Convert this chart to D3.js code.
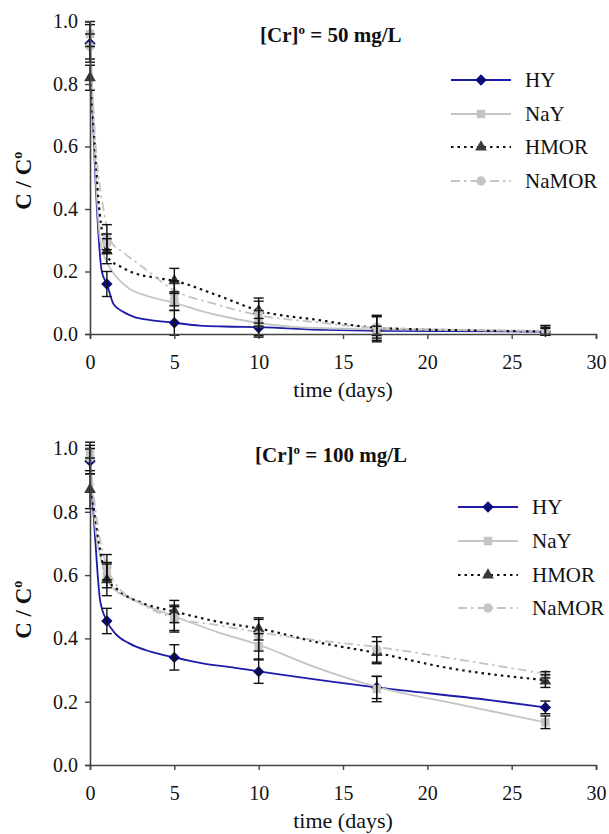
<!DOCTYPE html>
<html>
<head>
<meta charset="utf-8">
<script src="https://cdn.jsdelivr.net/npm/d3@7"></script>
<style>
  body { margin: 0; background: #fff; }
  text { font-family: "Liberation Serif", "Times New Roman", serif; fill: #111; }
</style>
</head>
<body>
<div id="chart"></div>
<script>
// sampling times (days) and tick values
var times = [0, 1, 5, 10, 17, 27];
var seriesNames = ["HY", "NaY", "HMOR", "NaMOR"];
var xTicks = [0, 5, 10, 15, 20, 25, 30];
var yTicks = [0, 0.2, 0.4, 0.6, 0.8, 1.0];

// [Cr]o = 50 mg/L : measured points and error bars
var hy50 = [0.93, 0.16, 0.036, 0.02, 0.01, 0.008];
var hy50Err = [0.06, 0.04, 0.04, 0.03, 0.015, 0.01];
var nay50 = [0.96, 0.31, 0.105, 0.035, 0.015, 0.012];
var nay50Err = [0.04, 0.04, 0.03, 0.04, 0.04, 0.015];
var hmor50 = [0.82, 0.265, 0.17, 0.075, 0.02, 0.008];
var hmor50Err = [0.04, 0.04, 0.04, 0.04, 0.04, 0.012];
var namor50 = [0.92, 0.29, 0.13, 0.065, 0.022, 0.012];
var namor50Err = [0.04, 0.03, 0.04, 0.04, 0.035, 0.015];

// curves drawn through the 50 mg/L data
var hy50Fit = [[0,0.93],[0.3,0.52],[0.7,0.2],[1,0.16],[1.4,0.095],[2,0.07],[2.6,0.055],[3.5,0.045],[5,0.036],[6.5,0.027],[8,0.024],[10,0.022],[14,0.013],[17,0.01],[27,0.008]];
var nay50Fit = [[0,0.96],[0.3,0.55],[0.6,0.3],[1,0.23],[1.2,0.21],[2.2,0.15],[3.5,0.12],[5,0.1],[6.5,0.075],[7.6,0.06],[10,0.035],[13,0.02],[17,0.015],[27,0.01]];
var hmor50Fit = [[0,0.82],[0.3,0.59],[0.5,0.43],[0.8,0.3],[1.2,0.235],[1.6,0.222],[2.6,0.195],[3.9,0.18],[5,0.17],[7.5,0.125],[10,0.075],[13.5,0.045],[17,0.02],[22,0.012],[27,0.008]];
var namor50Fit = [[0,0.92],[0.4,0.56],[0.8,0.4],[1.2,0.3],[2,0.26],[3.1,0.215],[5,0.14],[7.5,0.095],[10,0.06],[13,0.04],[17,0.02],[27,0.01]];

// [Cr]o = 100 mg/L
var hy100 = [0.96, 0.455, 0.34, 0.295, 0.245, 0.182];
var hy100Err = [0.04, 0.04, 0.04, 0.037, 0.035, 0.02];
var nay100 = [0.99, 0.60, 0.46, 0.375, 0.24, 0.135];
var nay100Err = [0.02, 0.04, 0.04, 0.04, 0.04, 0.02];
var hmor100 = [0.87, 0.585, 0.485, 0.43, 0.355, 0.265];
var hmor100Err = [0.06, 0.05, 0.035, 0.035, 0.035, 0.02];
var namor100 = [0.97, 0.625, 0.465, 0.41, 0.365, 0.285];
var namor100Err = [0.05, 0.04, 0.04, 0.05, 0.04, 0.01];

var hy100Fit = [[0,0.96],[0.3,0.72],[0.6,0.52],[1,0.455],[1.5,0.415],[2.3,0.385],[3.6,0.358],[5,0.34],[6.6,0.322],[8.6,0.307],[10,0.296],[17,0.245],[23.7,0.205],[27,0.182]];
var nay100Fit = [[0,0.99],[0.3,0.76],[0.76,0.63],[1.3,0.563],[2.65,0.52],[5,0.47],[7.55,0.42],[10,0.38],[13.3,0.31],[17,0.247],[22,0.19],[27,0.135]];
var hmor100Fit = [[0,0.87],[0.3,0.784],[0.5,0.71],[1,0.59],[1.66,0.553],[3.2,0.51],[5,0.485],[7.55,0.453],[10.4,0.427],[13.3,0.39],[17,0.354],[21.3,0.306],[27,0.268]];
var namor100Fit = [[0,0.97],[0.3,0.816],[1,0.625],[1.5,0.575],[3,0.51],[5,0.465],[7.55,0.442],[10.4,0.416],[13.3,0.395],[17,0.373],[21.3,0.338],[27,0.288]];

var styles = {
  HY:    { line: "#1c1ca8", width: 1.8, dash: null,        marker: "diamond",  fill: "#0a0a78" },
  NaY:   { line: "#c4c4c4", width: 1.8, dash: null,        marker: "square",   fill: "#c4c4c4" },
  HMOR:  { line: "#111",    width: 2.2, dash: "2.5,4",     marker: "triangle", fill: "#3a3a3a" },
  NaMOR: { line: "#c4c4c4", width: 1.8, dash: "9,4,2.5,4", marker: "circle",   fill: "#c4c4c4" }
};

function markerPath(kind) {
  if (kind === "diamond") return d3.symbol(d3.symbolSquare, 64)();
  if (kind === "square") return d3.symbol(d3.symbolSquare, 72)();
  if (kind === "triangle") return d3.symbol(d3.symbolTriangle, 60)();
  return d3.symbol(d3.symbolCircle, 70)();
}

var width = 609, height = 834;
var svg = d3.select("#chart").append("svg")
  .attr("width", width).attr("height", height);

function drawPanel(p) {
  var x = d3.scaleLinear().domain([0, 30]).range([90, 596]);
  var y = d3.scaleLinear().domain([0, 1]).range([p.bottom, p.top]);
  var g = svg.append("g");

  // curves
  p.series.forEach(function (s) {
    var st = styles[s.name];
    g.append("path")
      .datum(s.fit)
      .attr("fill", "none")
      .attr("stroke", st.line)
      .attr("stroke-width", st.width)
      .attr("stroke-dasharray", st.dash)
      .attr("d", d3.line().curve(d3.curveMonotoneX)
        .x(function (d) { return x(d[0]); })
        .y(function (d) { return y(d[1]); }));
  });

  // markers
  p.series.forEach(function (s) {
    var st = styles[s.name];
    g.selectAll(null).data(times).enter().append("path")
      .attr("d", markerPath(st.marker))
      .attr("fill", st.fill)
      .attr("transform", function (t, i) {
        return "translate(" + x(t) + "," + y(s.values[i]) + ")" + (st.marker === "diamond" ? " rotate(45)" : "");
      });
  });

  // error bars
  p.series.forEach(function (s) {
    times.forEach(function (t, i) {
      var v = s.values[i], e = s.err[i], cx = x(t);
      var eb = g.append("g").attr("stroke", "#111").attr("stroke-width", 1.4);
      eb.append("line").attr("x1", cx).attr("x2", cx).attr("y1", y(v + e)).attr("y2", y(v - e));
      eb.append("line").attr("x1", cx - 5).attr("x2", cx + 5).attr("y1", y(v + e)).attr("y2", y(v + e));
      eb.append("line").attr("x1", cx - 5).attr("x2", cx + 5).attr("y1", y(v - e)).attr("y2", y(v - e));
    });
  });

  // axes
  var xAxis = g.append("g")
    .attr("transform", "translate(0," + p.bottom + ")")
    .call(d3.axisBottom(x).tickValues(xTicks).tickSize(5).tickPadding(16).tickFormat(d3.format("d")));
  var yAxis = g.append("g")
    .attr("transform", "translate(90,0)")
    .call(d3.axisLeft(y).tickValues(yTicks).tickSize(5).tickPadding(7).tickFormat(d3.format(".1f")));
  [xAxis, yAxis].forEach(function (a) {
    a.attr("font-family", "Liberation Serif");
    a.select(".domain").attr("stroke", "#444").attr("stroke-width", 1.6);
    a.selectAll(".tick line").attr("stroke", "#444").attr("stroke-width", 1.4);
    a.selectAll(".tick text").style("font-size", "20px").attr("fill", "#222");
  });

  // axis titles
  svg.append("text")
    .attr("x", 343).attr("y", p.bottom + 63)
    .attr("text-anchor", "middle")
    .style("font-size", "22px")
    .text("time (days)");

  var yl = svg.append("text")
    .attr("transform", "translate(31," + ((p.top + p.bottom) / 2 + 3) + ") rotate(-90)")
    .attr("text-anchor", "middle")
    .style("font-size", "23px").style("font-weight", "bold");
  yl.append("tspan").text("C / C");
  yl.append("tspan").attr("dy", -9).style("font-size", "14px").text("o");

  // panel title
  var tt = svg.append("text")
    .attr("x", p.titleX).attr("y", p.titleY)
    .style("font-size", "21px").style("font-weight", "bold");
  tt.append("tspan").text("[Cr]");
  tt.append("tspan").attr("dy", -8).style("font-size", "13px").text("o");
  tt.append("tspan").attr("dy", 8).text(" = " + p.conc + " mg/L");

  // legend
  p.series.forEach(function (s, i) {
    var st = styles[s.name];
    var ly = p.legendY[i];
    svg.append("line")
      .attr("x1", p.legendX).attr("x2", p.legendX + 60)
      .attr("y1", ly).attr("y2", ly)
      .attr("stroke", st.line).attr("stroke-width", st.width)
      .attr("stroke-dasharray", st.dash);
    svg.append("path")
      .attr("d", markerPath(st.marker))
      .attr("fill", st.fill)
      .attr("transform", "translate(" + (p.legendX + 30) + "," + ly + ")" + (st.marker === "diamond" ? " rotate(45)" : ""));
    svg.append("text")
      .attr("x", p.legendX + 74).attr("y", ly + 7)
      .style("font-size", "21px")
      .text(s.name);
  });
}

drawPanel({
  top: 21.5, bottom: 334, conc: 50, titleX: 260, titleY: 42,
  legendX: 451, legendY: [80, 114, 147, 181],
  series: [
    { name: "HY", values: hy50, err: hy50Err, fit: hy50Fit },
    { name: "NaY", values: nay50, err: nay50Err, fit: nay50Fit },
    { name: "HMOR", values: hmor50, err: hmor50Err, fit: hmor50Fit },
    { name: "NaMOR", values: namor50, err: namor50Err, fit: namor50Fit }
  ]
});

drawPanel({
  top: 448.5, bottom: 765, conc: 100, titleX: 255, titleY: 462,
  legendX: 458, legendY: [507, 541, 575, 608],
  series: [
    { name: "HY", values: hy100, err: hy100Err, fit: hy100Fit },
    { name: "NaY", values: nay100, err: nay100Err, fit: nay100Fit },
    { name: "HMOR", values: hmor100, err: hmor100Err, fit: hmor100Fit },
    { name: "NaMOR", values: namor100, err: namor100Err, fit: namor100Fit }
  ]
});
</script>
</body>
</html>
